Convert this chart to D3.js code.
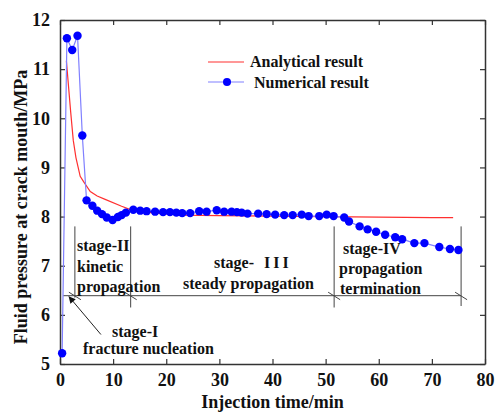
<!DOCTYPE html>
<html>
<head>
<meta charset="utf-8">
<script src="https://cdn.jsdelivr.net/npm/d3@7"></script>
<style>
  body { margin: 0; background: #fff; }
  svg { display: block; font-family: "Liberation Serif", "Times New Roman", serif; font-weight: bold; }
</style>
</head>
<body>
<svg id="chart"></svg>
<script>
const width = 495
const height = 413

const marginTop = 20
const marginRight = 10
const marginLeft = 60
const marginBottom = 49

// analytical result (red line)
const anaTime = [1.2, 2.0, 2.5, 3.0, 3.8, 4.5, 5.7, 7.0, 8.5, 11.6, 13.5, 15.2, 18, 23, 30, 40, 50, 60, 70, 74]
const anaPressure = [11.17, 10.14, 9.55, 9.2, 8.82, 8.7, 8.51, 8.42, 8.35, 8.21, 8.13, 8.1, 8.07, 8.03, 8.02, 8.01, 8.0, 7.99, 7.98, 7.98]

// numerical result (blue dots)
const numTime = [0.4, 1.3, 2.3, 3.3, 4.2, 5.0, 6.1, 7.0, 7.9, 8.8, 9.9, 10.9, 11.6, 12.4, 13.8, 15.1, 16.3, 17.9, 19.4, 20.7,
  21.9, 23.0, 24.5, 26.2, 27.6, 29.5, 30.9, 32.3, 33.3, 34.2, 35.3, 37.3, 38.9, 40.5, 42.2, 43.8, 45.5, 46.8, 48.8, 50.2,
  51.5, 53.5, 54.4, 56.4, 57.9, 59.5, 61.2, 63.1, 64.4, 66.7, 68.6, 71.4, 73.4, 75.0]
const numPressure = [5.22, 11.63, 11.39, 11.68, 9.65, 8.33, 8.22, 8.12, 8.05, 7.98, 7.93, 7.99, 8.03, 8.08, 8.14, 8.12, 8.11, 8.10, 8.09, 8.09,
  8.08, 8.07, 8.07, 8.11, 8.10, 8.13, 8.10, 8.10, 8.09, 8.08, 8.06, 8.06, 8.05, 8.04, 8.03, 8.03, 8.04, 8.01, 8.01, 8.04,
  8.01, 7.98, 7.90, 7.80, 7.74, 7.69, 7.63, 7.58, 7.54, 7.46, 7.46, 7.38, 7.34, 7.32]

const xTicks = [0, 10, 20, 30, 40, 50, 60, 70, 80]
const yTicks = [5, 6, 7, 8, 9, 10, 11, 12]
const legendLabels = ["Analytical result", "Numerical result"]

// stage boundaries on the time axis (min)
const stageBounds = [2.8, 13.3, 51.6, 75.5]

const anaData = anaTime.map((t, i) => [t, anaPressure[i]])
const numData = numTime.map((t, i) => [t, numPressure[i]])

const xScale = d3.scaleLinear()
  .domain([0, 80])
  .range([marginLeft, width - marginRight])

const yScale = d3.scaleLinear()
  .domain([5, 12])
  .range([height - marginBottom, marginTop])

const svg = d3.select("#chart")
  .attr("width", width)
  .attr("height", height)

const x0 = marginLeft, x1 = width - marginRight
const y0 = height - marginBottom, y1 = marginTop

// axes, ticks pointing inward
svg.append("g")
  .attr("transform", `translate(0, ${y0})`)
  .call(d3.axisBottom(xScale).tickValues(xTicks).tickFormat(d3.format("d")).tickSize(-5).tickPadding(9).tickSizeOuter(0))
svg.append("g")
  .attr("transform", `translate(0, ${y1})`)
  .call(d3.axisTop(xScale).tickValues(xTicks).tickSize(-5).tickFormat("").tickSizeOuter(0))
svg.append("g")
  .attr("transform", `translate(${x0}, 0)`)
  .call(d3.axisLeft(yScale).tickValues(yTicks).tickFormat(d3.format("d")).tickSize(-5).tickPadding(10).tickSizeOuter(0))
svg.append("g")
  .attr("transform", `translate(${x1}, 0)`)
  .call(d3.axisRight(yScale).tickValues(yTicks).tickSize(-5).tickFormat("").tickSizeOuter(0))

svg.selectAll("g").attr("font-family", null).attr("font-size", null)
svg.selectAll(".domain").attr("stroke", "#333").attr("stroke-width", 1.5)
svg.selectAll(".tick line").attr("stroke", "#333").attr("stroke-width", 1.2)
svg.selectAll(".tick text")
  .attr("fill", "#111")
  .style("font-family", "'Liberation Serif', serif")
  .style("font-weight", "bold")
  .style("font-size", "18px")

// axis titles
svg.append("text")
  .attr("x", (x0 + x1) / 2)
  .attr("y", 408)
  .attr("text-anchor", "middle")
  .attr("font-size", 18)
  .attr("fill", "#111")
  .text("Injection time/min")

svg.append("text")
  .attr("transform", `translate(27, 207) rotate(-90)`)
  .attr("text-anchor", "middle")
  .attr("font-size", 18)
  .attr("fill", "#111")
  .text("Fluid pressure at crack mouth/MPa")

// stage annotation lines
const ann = svg.append("g")
  .attr("stroke", "#444")
  .attr("stroke-width", 1)
  .attr("fill", "none")

const lineY = yScale(6.39)
const bottoms = [6.35, 6.15, 6.15, 6.18]
stageBounds.forEach((t, i) => {
  ann.append("line")
    .attr("x1", xScale(t)).attr("x2", xScale(t))
    .attr("y1", yScale(7.8)).attr("y2", yScale(bottoms[i]))
  ann.append("line")
    .attr("x1", xScale(t) - 6).attr("x2", xScale(t) + 6)
    .attr("y1", lineY - 3.5).attr("y2", lineY + 4)
})
ann.append("line")
  .attr("x1", xScale(0.6)).attr("x2", xScale(stageBounds[3]))
  .attr("y1", lineY).attr("y2", lineY)

// arrow to stage-I
svg.append("defs").append("marker")
  .attr("id", "arrow")
  .attr("viewBox", "0 0 10 10")
  .attr("refX", 9).attr("refY", 5)
  .attr("markerWidth", 9).attr("markerHeight", 7)
  .attr("markerUnits", "userSpaceOnUse")
  .attr("orient", "auto")
  .append("path")
  .attr("d", "M0,0 L10,5 L0,10 z")
  .attr("fill", "#111")

svg.append("line")
  .attr("x1", xScale(7.7)).attr("y1", yScale(5.6))
  .attr("x2", xScale(1.7)).attr("y2", yScale(6.37))
  .attr("stroke", "#222")
  .attr("stroke-width", 1)
  .attr("marker-end", "url(#arrow)")

// stage labels
const labels = svg.append("g")
  .attr("font-size", 16)
  .attr("fill", "#111")

const addLabel = (x, y, txt) => labels.append("text").attr("x", x).attr("y", y).text(txt)
addLabel(77, 251, "stage-II")
addLabel(77, 272, "kinetic")
addLabel(77, 292, "propagation")

const s3 = labels.append("text").attr("x", 214).attr("y", 268)
s3.append("tspan").text("stage-")
s3.append("tspan").attr("dx", 10).attr("letter-spacing", 3).text("III")
addLabel(183, 289, "steady propagation")

addLabel(343, 254, "stage-IV")
addLabel(339, 274, "propagation")
addLabel(340, 294, "termination")

addLabel(112, 337, "stage-I")
addLabel(83, 354, "fracture nucleation")

// analytical line
svg.append("path")
  .datum(anaData)
  .attr("fill", "none")
  .attr("stroke", "#ff3030")
  .attr("stroke-width", 1.2)
  .attr("d", d3.line().x(d => xScale(d[0])).y(d => yScale(d[1])))

// numerical line + dots
svg.append("path")
  .datum(numData)
  .attr("fill", "none")
  .attr("stroke", "#8080ff")
  .attr("stroke-width", 1.2)
  .attr("d", d3.line().x(d => xScale(d[0])).y(d => yScale(d[1])))

svg.selectAll("circle.num")
  .data(numData)
  .enter()
  .append("circle")
  .attr("class", "num")
  .attr("cx", d => xScale(d[0]))
  .attr("cy", d => yScale(d[1]))
  .attr("r", 4.2)
  .attr("fill", "#0000ff")

// legend
const legend = svg.append("g").attr("font-size", 16).attr("fill", "#111")
legend.append("line")
  .attr("x1", 208).attr("x2", 244).attr("y1", 62).attr("y2", 62)
  .attr("stroke", "#ff3030").attr("stroke-width", 1.2)
legend.append("text").attr("x", 250).attr("y", 67).text(legendLabels[0])
legend.append("line")
  .attr("x1", 208).attr("x2", 244).attr("y1", 82).attr("y2", 82)
  .attr("stroke", "#8080ff").attr("stroke-width", 1.2)
legend.append("circle")
  .attr("cx", 227).attr("cy", 82).attr("r", 4)
  .attr("fill", "#0000ff")
legend.append("text").attr("x", 254).attr("y", 88).text(legendLabels[1])
</script>
</body>
</html>
